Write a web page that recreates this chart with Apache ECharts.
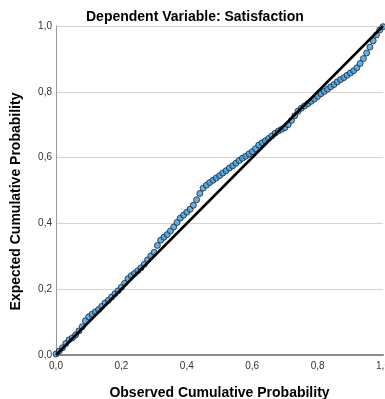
<!DOCTYPE html>
<html>
<head>
<meta charset="utf-8">
<script src="https://cdn.jsdelivr.net/npm/echarts@6/dist/echarts.min.js"></script>
<style>
  html, body { margin: 0; padding: 0; background: #fff; }
  #pp { width: 385px; height: 399px; }
</style>
</head>
<body>
<div id="pp"></div>
<script>
// observed vs expected cumulative probability
let observed = [
  0.00, 0.01, 0.02, 0.03, 0.04, 0.05, 0.06, 0.07, 0.08, 0.09,
  0.10, 0.11, 0.12, 0.13, 0.14, 0.15, 0.16, 0.17, 0.18, 0.19,
  0.20, 0.21, 0.22, 0.23, 0.24, 0.25, 0.26, 0.27, 0.28, 0.29,
  0.30, 0.31, 0.32, 0.33, 0.34, 0.35, 0.36, 0.37, 0.38, 0.39,
  0.40, 0.41, 0.42, 0.43, 0.44, 0.45, 0.46, 0.47, 0.48, 0.49,
  0.50, 0.51, 0.52, 0.53, 0.54, 0.55, 0.56, 0.57, 0.58, 0.59,
  0.60, 0.61, 0.62, 0.63, 0.64, 0.65, 0.66, 0.67, 0.68, 0.69,
  0.70, 0.71, 0.72, 0.73, 0.74, 0.75, 0.76, 0.77, 0.78, 0.79,
  0.80, 0.81, 0.82, 0.83, 0.84, 0.85, 0.86, 0.87, 0.88, 0.89,
  0.90, 0.91, 0.92, 0.93, 0.94, 0.95, 0.96, 0.97, 0.98, 0.99, 1.00
]
let expected = [
  0.003, 0.012, 0.022, 0.035, 0.046, 0.052, 0.061, 0.073, 0.086, 0.104,
  0.116, 0.124, 0.131, 0.138, 0.148, 0.158, 0.166, 0.176, 0.186, 0.195,
  0.206, 0.218, 0.232, 0.241, 0.248, 0.256, 0.265, 0.276, 0.289, 0.301,
  0.312, 0.333, 0.349, 0.358, 0.366, 0.377, 0.389, 0.403, 0.416, 0.425,
  0.434, 0.443, 0.455, 0.472, 0.491, 0.507, 0.516, 0.524, 0.531, 0.538,
  0.545, 0.553, 0.560, 0.568, 0.575, 0.583, 0.591, 0.598, 0.604, 0.611,
  0.618, 0.627, 0.638, 0.645, 0.651, 0.658, 0.666, 0.674, 0.681, 0.686,
  0.691, 0.700, 0.713, 0.727, 0.741, 0.750, 0.757, 0.764, 0.771, 0.778,
  0.786, 0.794, 0.801, 0.808, 0.815, 0.822, 0.830, 0.837, 0.843, 0.850,
  0.857, 0.864, 0.873, 0.886, 0.901, 0.918, 0.936, 0.955, 0.973, 0.988, 0.998
]
let refLine = [[0, 0], [1, 1]]

let points = []
for (let i = 0; i < observed.length; i++) {
    points.push([observed[i], expected[i]])
}

let fmt = function (v) {
    return v.toFixed(1).replace('.', ',')
}

let chart = echarts.init(document.querySelector('#pp'), null, { renderer: 'canvas' })
let option = {
    animation: false,
    backgroundColor: '#ffffff',
    textStyle: { fontFamily: 'Liberation Sans, Arial, sans-serif' },
    title: {
        text: 'Dependent Variable: Satisfaction',
        left: 86,
        top: 10,
        padding: 0,
        textStyle: { fontSize: 14, fontWeight: 'bold', color: '#000' }
    },
    grid: { left: 56, right: 2, top: 26, bottom: 44, outerBoundsMode: 'none' },
    xAxis: {
        type: 'value',
        min: 0, max: 1, interval: 0.2,
        name: 'Observed Cumulative Probability',
        nameLocation: 'middle',
        nameGap: 31,
        nameTextStyle: { fontSize: 14, fontWeight: 'bold', color: '#000' },
        axisLine: { lineStyle: { color: '#8c8c8c', width: 2 } },
        axisTick: { show: false },
        splitLine: { show: false },
        axisLabel: { fontSize: 10, color: '#333', margin: 6, formatter: fmt }
    },
    yAxis: {
        type: 'value',
        min: 0, max: 1, interval: 0.2,
        name: 'Expected Cumulative Probability',
        nameLocation: 'middle',
        nameGap: 33,
        nameTextStyle: { fontSize: 14, fontWeight: 'bold', color: '#000', padding: [0, 22, 0, 0] },
        axisLine: { show: true, lineStyle: { color: '#9a9a9a', width: 1 } },
        axisTick: { show: false },
        splitLine: { lineStyle: { color: '#d4d4d4', width: 1 } },
        axisLabel: { fontSize: 10, color: '#333', margin: 4, formatter: fmt }
    },
    series: [
        {
            name: 'points',
            type: 'scatter',
            data: points,
            symbol: 'circle',
            symbolSize: 6,
            itemStyle: { color: '#3a9de2', borderColor: '#1a2633', borderWidth: 1 },
            z: 2
        },
        {
            name: 'reference',
            type: 'line',
            data: refLine,
            showSymbol: false,
            lineStyle: { color: '#000', width: 2.5 },
            z: 3
        }
    ]
}
chart.setOption(option)
</script>
</body>
</html>
